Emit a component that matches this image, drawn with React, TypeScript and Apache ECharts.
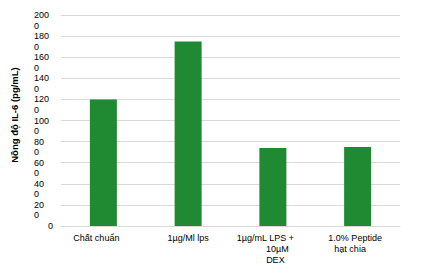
import React, { useEffect, useRef } from "react";
import * as echarts from "echarts";

const categories = ["Chất chuẩn", "1µg/Ml lps", "1µg/mL LPS +\n10µM\nDEX", "1.0% Peptide\nhạt chia"];
const values = [120, 175, 74, 75];
const yTicks = [0, 20, 40, 60, 80, 100, 120, 140, 160, 180, 200];
const yTitle = "Nồng độ IL-6 (pg/mL)";

// per-line horizontal shift (px) of the category labels, layout only
const lineShift: number[][] = [[-7], [0], [-7.5, 4.5, 2.5], [-2.5, -7.5]];

export default function App() {
  const ref = useRef<HTMLDivElement>(null);
  useEffect(() => {
    if (!ref.current) return;
    const chart = echarts.init(ref.current, null, { renderer: "svg" });
    const font = "'Liberation Sans', Arial, sans-serif";
    chart.setOption({
      animation: false,
      grid: { left: 61, right: 27, top: 15, bottom: 45 },
      xAxis: {
        type: "category",
        data: categories,
        axisLine: { lineStyle: { color: "#d9d9d9" } },
        axisTick: { show: false },
        axisLabel: {
          interval: 0,
          margin: 6,
          color: "#000",
          fontFamily: font,
          fontSize: 9,
          lineHeight: 11,
          formatter: (v: string, idx: number) => {
            const lines = v.split("\n");
            return lines
              .map((l, i) => {
                const s = (lineShift[idx] && lineShift[idx][i]) || 0;
                if (s < 0) return `{r${Math.round(-s * 2)}|${l}}`;
                if (s > 0) return `{l${Math.round(s * 2)}|${l}}`;
                return `{n|${l}}`;
              })
              .join("\n");
          },
          rich: (() => {
            const r: any = { n: { fontSize: 9, lineHeight: 11, fontFamily: font, color: "#000" } };
            for (let k = 1; k <= 40; k++) {
              r["r" + k] = { fontSize: 9, lineHeight: 11, fontFamily: font, color: "#000", padding: [0, k, 0, 0] };
              r["l" + k] = { fontSize: 9, lineHeight: 11, fontFamily: font, color: "#000", padding: [0, 0, 0, k] };
            }
            return r;
          })(),
        },
      },
      yAxis: {
        type: "value",
        min: yTicks[0],
        max: yTicks[yTicks.length - 1],
        interval: yTicks[1] - yTicks[0],
        name: yTitle,
        nameLocation: "middle",
        nameRotate: 90,
        nameGap: 42,
        nameTextStyle: { fontFamily: font, fontSize: 9.5, fontWeight: "bold", color: "#000", padding: [0, 0, 0, 11] },
        splitLine: { lineStyle: { color: "#d9d9d9" } },
        axisLine: { show: false },
        axisTick: { show: false },
        axisLabel: {
          showMaxLabel: true,
          showMinLabel: true,
          align: "left",
          margin: 27,
          color: "#000",
          fontFamily: font,
          fontSize: 9,
          formatter: (v: number) => (v === 0 ? "{z|0}\n{n| }" : `{n|${v}}\n{n|0}`),
          padding: [0, 0, -10.5, 0],
          rich: {
            n: { fontSize: 9, lineHeight: 10.5, fontFamily: font, color: "#000" },
            z: { fontSize: 9, lineHeight: 10.5, fontFamily: font, color: "#000", padding: [0, 0, 0, 14] },
          },
        },
      },
      series: [
        {
          type: "bar",
          data: values,
          barWidth: 27,
          itemStyle: { color: "#208a32" },
        },
      ],
    });
    return () => chart.dispose();
  }, []);
  return <div ref={ref} style={{ position: "fixed", left: 0, top: 0, width: 427, height: 271, background: "#fff" }} />;
}
